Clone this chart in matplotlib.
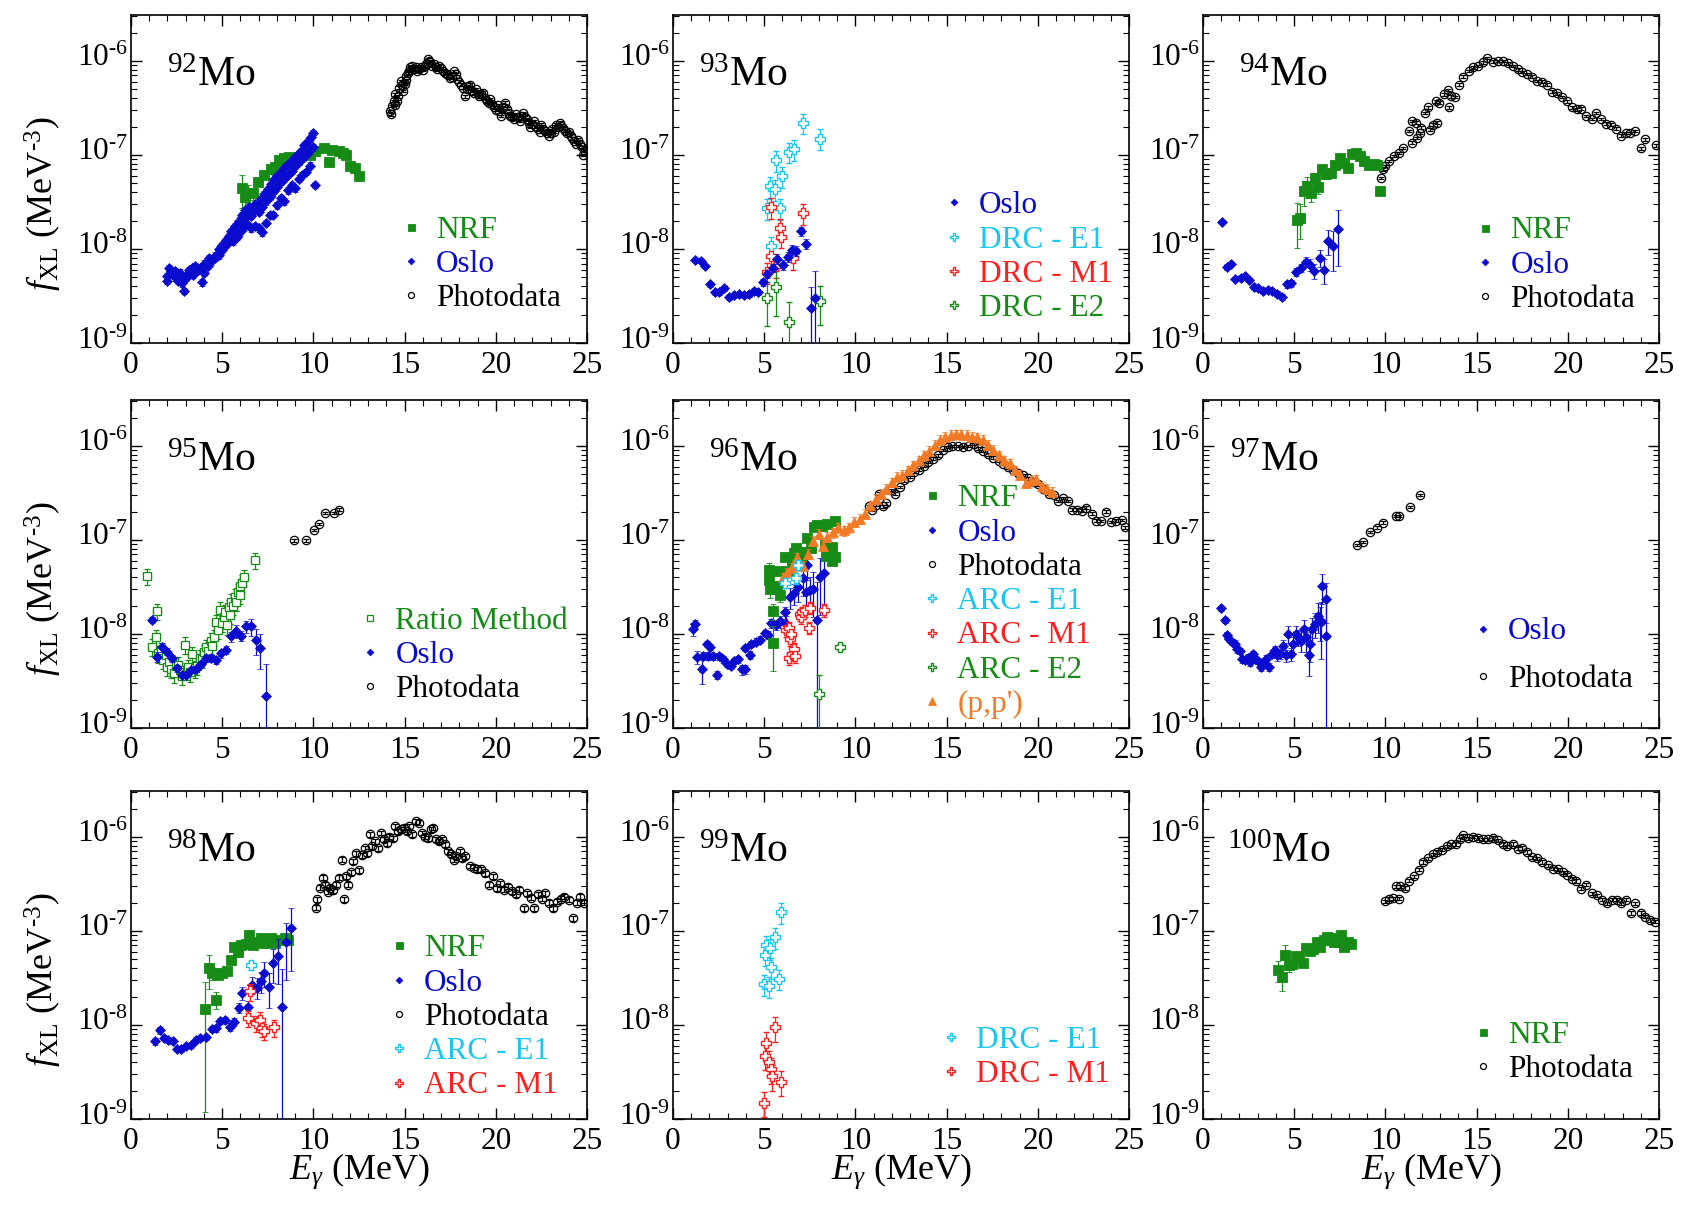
import numpy as np
import matplotlib
matplotlib.use('Agg')
import matplotlib.pyplot as plt
from matplotlib.lines import Line2D
from matplotlib.transforms import ScaledTranslation
from matplotlib.ticker import LogLocator, MultipleLocator, NullFormatter, FuncFormatter, FixedLocator

plt.rcParams['font.family'] = ['Liberation Serif', 'DejaVu Serif']
plt.rcParams['mathtext.fontset'] = 'custom'
plt.rcParams['mathtext.rm'] = 'Liberation Serif'
plt.rcParams['mathtext.it'] = 'Liberation Serif:italic'
plt.rcParams['mathtext.bf'] = 'Liberation Serif:bold'
plt.rcParams['axes.unicode_minus'] = False

# ---------------- DATA ----------------
# 92Mo
mo92_nrf_x = [6.07, 6.25, 6.4, 6.67, 6.95, 7.3, 7.67, 7.9, 8.1, 8.4, 8.67, 9.1, 9.3, 9.56, 9.8, 10.1, 10.6, 10.83, 11.0, 11.4, 11.6, 11.77, 12.0, 12.3, 12.5]
mo92_nrf_y = [4.4e-8, 3.6e-8, 3.9e-8, 3.9e-8, 5.2e-8, 6.1e-8, 7.0e-8, 7.5e-8, 8.9e-8, 9.2e-8, 9.6e-8, 8.9e-8, 9.8e-8, 1.04e-7, 1.0e-7, 1.1e-7, 1.18e-7, 8.5e-8, 1.12e-7, 1.1e-7, 1.04e-7, 1.0e-7, 7.6e-8, 7.3e-8, 5.9e-8]
mo92_nrf_err = [0.38, 0.25, 0.22, 0.15, 0.1, 0.08, 0.06, 0.06, 0.05, 0.05, 0.05, 0.05, 0.05, 0.05, 0.05, 0.05, 0.05, 0.05, 0.05, 0.05, 0.05, 0.05, 0.05, 0.05, 0.05]
mo92_osloA_x = [1.96, 2.1, 2.25, 2.41, 2.55, 2.7, 2.92, 3.05, 3.2, 3.33, 3.5, 3.65, 3.88, 4.0, 4.25, 4.4, 4.6, 4.8, 5.0, 5.2, 5.35, 5.5, 5.7, 5.9, 6.1, 6.25, 6.45, 6.6, 6.8, 7.0, 7.15, 7.3, 7.5, 7.65, 7.85, 8.0, 8.2, 8.4, 8.6, 8.8, 8.95, 9.1, 9.3, 9.5, 9.7, 9.85, 9.96]
mo92_osloA_y = [5.1e-9, 6.3e-9, 5.4e-9, 5.8e-9, 4.6e-9, 5.6e-9, 3.6e-9, 5.2e-9, 6.0e-9, 6.3e-9, 6.6e-9, 6.0e-9, 4.4e-9, 7.0e-9, 8.0e-9, 7.6e-9, 8.5e-9, 1.0e-8, 1.1e-8, 1.25e-8, 1.36e-8, 1.55e-8, 1.75e-8, 2.0e-8, 2.3e-8, 2.6e-8, 2.8e-8, 2.7e-8, 3.0e-8, 2.9e-8, 3.4e-8, 3.8e-8, 4.3e-8, 4.9e-8, 5.6e-8, 6.0e-8, 6.6e-8, 7.2e-8, 8.0e-8, 8.6e-8, 9.2e-8, 1.0e-7, 1.1e-7, 1.28e-7, 1.4e-7, 1.55e-7, 1.7e-7]
mo92_osloB_x = [2.0, 2.2, 2.4, 2.6, 2.8, 3.0, 3.2, 3.4, 3.6, 3.8, 4.0, 4.2, 4.4, 4.6, 4.8, 5.0, 5.2, 5.4, 5.6, 5.8, 6.0, 6.2, 6.4, 6.6, 6.8, 7.0, 7.2, 7.4, 7.6, 7.8, 8.0, 8.2, 8.4, 8.6, 8.8, 9.0, 9.2, 9.4, 9.6, 9.8, 10.0]
mo92_osloB_y = [4.6e-9, 5.8e-9, 5.0e-9, 4.9e-9, 4.3e-9, 4.9e-9, 5.6e-9, 5.3e-9, 5.9e-9, 6.3e-9, 5.6e-9, 6.6e-9, 7.4e-9, 8.0e-9, 8.6e-9, 9.8e-9, 1.1e-8, 1.22e-8, 1.4e-8, 1.6e-8, 1.85e-8, 2.1e-8, 2.4e-8, 2.25e-8, 2.6e-8, 2.5e-8, 2.8e-8, 3.2e-8, 3.6e-8, 4.0e-8, 4.5e-8, 5.2e-8, 5.6e-8, 6.1e-8, 6.8e-8, 7.6e-8, 8.5e-8, 9.2e-8, 1.0e-7, 1.12e-7, 1.2e-7]
mo92_osloC_x = [5.6, 5.8, 6.0, 6.2, 6.4, 6.6, 6.8, 7.0, 7.2, 7.4, 7.6, 7.8, 8.0, 8.2, 8.4, 8.6, 8.8, 9.0, 9.2, 9.4, 9.6, 9.8, 10.1]
mo92_osloC_y = [1.2e-8, 1.35e-8, 1.5e-8, 1.7e-8, 1.8e-8, 1.65e-8, 1.75e-8, 1.65e-8, 1.5e-8, 1.9e-8, 2.3e-8, 2.3e-8, 2.9e-8, 3.5e-8, 3.2e-8, 4.2e-8, 4.8e-8, 4.4e-8, 5.6e-8, 6.1e-8, 6.6e-8, 7.7e-8, 4.8e-8]
mo92_photo_x = [14.2, 14.3, 14.4, 14.5, 14.6, 14.7, 14.8, 14.9, 15.0, 15.1, 15.2, 15.3, 15.4, 15.5, 15.7, 15.9, 16.1, 16.3, 16.4, 16.5, 16.7, 16.9, 17.1, 17.3, 17.5, 17.7, 17.9, 18.1, 18.3, 18.5, 18.7, 18.9, 19.1, 19.3, 19.5, 19.7, 19.9, 20.1, 20.3, 20.5, 20.7, 20.9, 21.1, 21.3, 21.5, 21.7, 21.9, 22.1, 22.3, 22.5, 22.7, 22.9, 23.1, 23.3, 23.5, 23.7, 23.9, 24.1, 24.3, 24.5, 24.7, 24.9, 25.0]
mo92_photo_y = [2.92e-7, 3.31e-7, 3.74e-7, 4.4e-7, 3.74e-7, 5.19e-7, 6.1e-7, 4.78e-7, 5.64e-7, 6.92e-7, 7.5e-7, 8.5e-7, 8.8e-7, 8.1e-7, 7.8e-7, 8.5e-7, 8.8e-7, 1.04e-6, 9.6e-7, 8.8e-7, 8.5e-7, 8.8e-7, 7.8e-7, 7.2e-7, 6.6e-7, 7.8e-7, 6.4e-7, 5.6e-7, 4.2e-7, 5.4e-7, 4.8e-7, 5.0e-7, 4.2e-7, 4.6e-7, 3.7e-7, 3.9e-7, 3.2e-7, 3.4e-7, 2.6e-7, 3.6e-7, 2.8e-7, 2.5e-7, 2.7e-7, 2.3e-7, 2.8e-7, 2.4e-7, 2.0e-7, 2.3e-7, 1.9e-7, 2.1e-7, 1.8e-7, 1.6e-7, 1.9e-7, 2.1e-7, 2.2e-7, 1.95e-7, 1.7e-7, 1.6e-7, 1.4e-7, 1.45e-7, 1.2e-7, 1.1e-7, 1.15e-7]
mo92_photo2_x = [14.25, 14.45, 14.65, 14.85, 15.05, 15.25, 15.45, 15.6, 15.8, 16.0, 16.2, 16.35, 16.6, 16.8, 17.0, 17.2, 17.4, 17.6, 17.8, 18.0, 18.2, 18.4, 18.6, 18.8, 19.0, 19.2, 19.4, 19.6, 19.8, 20.0, 20.2, 20.4, 20.6, 20.8, 21.0, 21.2, 21.4, 21.6, 21.8, 22.0, 22.2, 22.4, 22.6, 22.8, 23.0, 23.2, 23.4, 23.6, 23.8, 24.0, 24.2, 24.4, 24.6, 24.8]
mo92_photo2_y = [2.7e-7, 3.4e-7, 4.2e-7, 5.5e-7, 6.2e-7, 7.8e-7, 8.2e-7, 8.6e-7, 8.2e-7, 8.0e-7, 9.2e-7, 1.0e-6, 9.2e-7, 8.2e-7, 8.4e-7, 7.4e-7, 7.0e-7, 6.8e-7, 7.2e-7, 6.0e-7, 5.2e-7, 5.0e-7, 5.6e-7, 4.6e-7, 4.4e-7, 4.4e-7, 4.0e-7, 3.6e-7, 3.5e-7, 3.0e-7, 2.9e-7, 3.2e-7, 3.1e-7, 2.6e-7, 2.4e-7, 2.5e-7, 2.6e-7, 2.5e-7, 2.2e-7, 2.15e-7, 2.0e-7, 1.75e-7, 1.9e-7, 1.7e-7, 1.7e-7, 1.75e-7, 2.0e-7, 2.05e-7, 1.8e-7, 1.75e-7, 1.5e-7, 1.3e-7, 1.3e-7, 1.0e-7]

# 93Mo
mo93_oslo_x = [1.23, 1.53, 1.76, 2.03, 2.31, 2.54, 2.82, 3.09, 3.35, 3.62, 3.91, 4.19, 4.46, 4.66, 4.93, 5.18, 5.46, 5.69, 6.03, 6.28, 6.51, 6.77, 7.04, 7.30, 7.55, 7.79]
mo93_oslo_y = [7.7e-9, 7.5e-9, 6.6e-9, 4.2e-9, 3.45e-9, 3.45e-9, 3.8e-9, 3.05e-9, 3.2e-9, 3.3e-9, 3.2e-9, 3.3e-9, 3.6e-9, 3.45e-9, 4.4e-9, 5.4e-9, 6.25e-9, 7.8e-9, 6.8e-9, 8.3e-9, 9.8e-9, 9.6e-9, 1.54e-8, 1.14e-8, 2.34e-9, 3.0e-9]
mo93_oslo_err = [0.05, 0.05, 0.06, 0.06, 0.06, 0.06, 0.06, 0.06, 0.06, 0.06, 0.06, 0.06, 0.07, 0.07, 0.08, 0.1, 0.1, 0.12, 0.12, 0.12, 0.12, 0.12, 0.1, 0.12, 0.7, 0.95]
mo93_e1_x = [5.14, 5.34, 5.4, 5.59, 5.67, 5.89, 5.95, 6.38, 6.61, 7.14, 8.08]
mo93_e1_y = [2.73e-8, 4.65e-8, 1.08e-8, 4.3e-8, 8.8e-8, 2.73e-8, 5.9e-8, 1.08e-7, 1.15e-7, 2.2e-7, 1.49e-7]
mo93_m1_x = [5.18, 5.38, 5.4, 5.63, 5.89, 5.93, 6.57, 7.14]
mo93_m1_y = [5.66e-9, 2.8e-8, 8.5e-9, 6.6e-9, 1.67e-8, 1.35e-8, 8.0e-9, 2.4e-8]
mo93_e2_x = [5.14, 5.63, 6.38, 8.08]
mo93_e2_y = [3.0e-9, 3.9e-9, 1.69e-9, 2.8e-9]
mo93_e2_err = [0.5, 0.5, 0.6, 0.45]

# 94Mo
mo94_nrf_x = [5.14, 5.33, 5.52, 5.72, 5.91, 6.14, 6.33, 6.52, 6.77, 7.0, 7.26, 7.51, 7.74, 7.93, 8.18, 8.41, 8.6, 8.8, 9.08, 9.37, 9.56, 9.72]
mo94_nrf_y = [2.05e-8, 2.13e-8, 4.1e-8, 4.65e-8, 3.95e-8, 5.7e-8, 4.5e-8, 7.0e-8, 6.2e-8, 6.4e-8, 7.9e-8, 9.3e-8, 8.2e-8, 7.3e-8, 1.01e-7, 1.05e-7, 9.7e-8, 8.6e-8, 7.9e-8, 8.0e-8, 7.9e-8, 4.1e-8]
mo94_nrf_err = [0.5, 0.4, 0.3, 0.25, 0.2, 0.12, 0.15, 0.1, 0.1, 0.08, 0.08, 0.06, 0.1, 0.06, 0.05, 0.05, 0.05, 0.05, 0.05, 0.05, 0.05, 0.05]
mo94_oslo_x = [1.04, 1.29, 1.54, 1.77, 2.06, 2.31, 2.54, 2.77, 3.02, 3.27, 3.54, 3.79, 4.08, 4.33, 4.6, 4.85, 5.1, 5.37, 5.62, 5.85, 6.1, 6.39, 6.62, 6.87, 7.1, 7.39]
mo94_oslo_y = [1.94e-8, 6.5e-9, 6.9e-9, 4.8e-9, 4.9e-9, 5.1e-9, 4.65e-9, 3.9e-9, 3.8e-9, 3.6e-9, 3.7e-9, 3.6e-9, 3.3e-9, 3.1e-9, 4.2e-9, 4.3e-9, 5.7e-9, 6.3e-9, 7.3e-9, 6.8e-9, 5.8e-9, 8.1e-9, 6.0e-9, 1.22e-8, 1.07e-8, 1.64e-8]
mo94_oslo_err = [0.05, 0.05, 0.05, 0.05, 0.05, 0.05, 0.05, 0.05, 0.05, 0.05, 0.05, 0.05, 0.07, 0.08, 0.08, 0.08, 0.1, 0.1, 0.12, 0.15, 0.18, 0.2, 0.3, 0.3, 0.45, 0.6]
mo94_photo_x = [9.76, 9.89, 10.0, 10.18, 10.47, 10.72, 10.97, 11.3, 11.45, 11.45, 11.68, 11.74, 11.87, 11.97, 12.17, 12.36, 12.45, 12.59, 12.78, 12.84, 12.93, 13.22, 13.41, 13.47, 13.61, 13.8, 14.03, 14.28, 14.57, 14.82, 15.09, 15.34, 15.59, 15.88, 16.17, 16.45, 16.74, 17.01, 17.26, 17.51, 17.78, 18.03, 18.32, 18.61, 18.86, 19.15, 19.4, 19.67, 19.96, 20.21, 20.48, 20.73, 21.02, 21.3, 21.55, 21.82, 22.08, 22.36, 22.65, 22.9, 23.17, 23.42, 23.71, 24.04, 24.25, 24.81]
mo94_photo_y = [5.7e-8, 7.0e-8, 7.6e-8, 8.6e-8, 9.7e-8, 1.05e-7, 1.19e-7, 1.79e-7, 2.29e-7, 1.35e-7, 2.2e-7, 1.51e-7, 1.72e-7, 1.95e-7, 2.8e-7, 3.2e-7, 1.86e-7, 2.1e-7, 3.7e-7, 2.2e-7, 3.6e-7, 4.4e-7, 4.9e-7, 3.2e-7, 4.2e-7, 4.1e-7, 5.6e-7, 6.8e-7, 7.8e-7, 8.5e-7, 8.8e-7, 9.6e-7, 1.07e-6, 9.8e-7, 1.0e-6, 1.0e-6, 9.4e-7, 8.8e-7, 8.1e-7, 7.6e-7, 7.2e-7, 6.8e-7, 6.1e-7, 6.0e-7, 5.6e-7, 4.7e-7, 4.5e-7, 4.1e-7, 3.7e-7, 3.2e-7, 3.05e-7, 3.1e-7, 2.6e-7, 2.4e-7, 2.8e-7, 2.4e-7, 2.15e-7, 2.1e-7, 1.9e-7, 1.6e-7, 1.7e-7, 1.7e-7, 1.8e-7, 1.17e-7, 1.46e-7, 1.26e-7]

# 95Mo
mo95_ratio_x = [0.9, 1.17, 1.35, 1.44, 1.5, 1.63, 1.75, 1.9, 2.0, 2.08, 2.2, 2.36, 2.45, 2.58, 2.7, 2.8, 2.94, 3.05, 3.13, 3.25, 3.37, 3.5, 3.64, 3.78, 3.91, 4.0, 4.1, 4.2, 4.37, 4.45, 4.55, 4.64, 4.75, 4.88, 5.0, 5.1, 5.18, 5.24, 5.37, 5.45, 5.5, 5.6, 5.68, 5.78, 5.86, 5.95, 6.0, 6.1, 6.19, 6.82]
mo95_ratio_y = [4.1e-8, 7.3e-9, 9.2e-9, 1.75e-8, 6.2e-9, 6.7e-9, 5.3e-9, 5.9e-9, 4.5e-9, 5.0e-9, 4.2e-9, 3.8e-9, 4.6e-9, 4.7e-9, 4.1e-9, 3.6e-9, 7.7e-9, 4.0e-9, 4.4e-9, 3.9e-9, 6.1e-9, 4.3e-9, 4.6e-9, 5.6e-9, 5.4e-9, 6.4e-9, 7.2e-9, 6.6e-9, 8.5e-9, 7.4e-9, 9.2e-9, 1.33e-8, 1.1e-8, 1.8e-8, 1.3e-8, 1.5e-8, 1.7e-8, 1.23e-8, 1.93e-8, 1.6e-8, 2.2e-8, 2.0e-8, 2.5e-8, 2.2e-8, 2.8e-8, 2.6e-8, 3.2e-8, 3.5e-8, 4.0e-8, 6.07e-8]
mo95_oslo_x = [1.17, 1.44, 1.72, 1.99, 2.23, 2.51, 2.78, 3.0, 3.31, 3.58, 3.86, 4.13, 4.41, 4.68, 4.92, 5.21, 5.47, 5.74, 6.02, 6.29, 6.57, 6.84, 7.08, 7.39]
mo95_oslo_y = [1.42e-8, 5.7e-9, 7.2e-9, 6.5e-9, 5.5e-9, 4.3e-9, 3.7e-9, 3.7e-9, 4.1e-9, 4.2e-9, 4.8e-9, 5.5e-9, 5.6e-9, 5.3e-9, 6.2e-9, 6.8e-9, 9.4e-9, 1.07e-8, 9.6e-9, 1.2e-8, 1.2e-8, 8.6e-9, 7.1e-9, 2.2e-9]
mo95_oslo_err = [0.06, 0.12, 0.1, 0.08, 0.08, 0.08, 0.06, 0.06, 0.06, 0.06, 0.08, 0.08, 0.1, 0.1, 0.1, 0.1, 0.12, 0.15, 0.12, 0.15, 0.2, 0.3, 0.4, 1.2]
mo95_photo_x = [8.94, 9.57, 10.03, 10.3, 10.62, 11.14, 11.41]
mo95_photo_y = [9.9e-8, 9.9e-8, 1.28e-7, 1.48e-7, 1.93e-7, 1.93e-7, 2.1e-7]

# 96Mo
mo96_nrf_x = [5.28, 5.28, 5.32, 5.5, 5.5, 5.68, 5.74, 5.86, 6.13, 6.31, 6.5, 6.62, 6.77, 7.04, 7.2, 7.32, 7.59, 7.75, 7.87, 8.18, 8.32, 8.41, 8.47, 8.69, 8.72, 8.86, 8.86]
mo96_nrf_y = [4.76e-8, 3.7e-8, 3.0e-8, 1.75e-8, 8.1e-9, 3.2e-8, 4.7e-8, 2.57e-8, 6.5e-8, 4.7e-8, 5.8e-8, 7.2e-8, 8.1e-8, 6.6e-8, 7.5e-8, 1.04e-7, 8.1e-8, 1.36e-7, 1.45e-7, 1.4e-7, 8.9e-8, 6.7e-8, 1.48e-7, 8.5e-8, 6.0e-8, 1.6e-7, 6.5e-8]
mo96_nrf_err = [0.2, 0.15, 0.2, 0.2, 0.5, 0.15, 0.1, 0.15, 0.08, 0.1, 0.08, 0.08, 0.08, 0.08, 0.08, 0.06, 0.08, 0.06, 0.06, 0.06, 0.08, 0.08, 0.06, 0.08, 0.1, 0.06, 0.1]
mo96_oslo_x = [1.08, 1.21, 1.34, 1.57, 1.63, 1.85, 1.94, 2.03, 2.21, 2.43, 2.54, 2.76, 2.98, 3.16, 3.34, 3.58, 3.76, 3.94, 3.94, 4.21, 4.3, 4.54, 4.76, 5.03, 5.21, 5.39, 5.63, 5.85, 6.13, 6.22, 6.4, 6.62, 6.86, 7.13, 7.31, 7.35, 7.5, 7.68, 7.87, 8.04, 8.26]
mo96_oslo_y = [1.13e-8, 1.28e-8, 5.7e-9, 4.2e-9, 5.8e-9, 7.8e-9, 5.8e-9, 7.3e-9, 5.8e-9, 3.7e-9, 5.8e-9, 5.4e-9, 4.8e-9, 4.6e-9, 5.2e-9, 5.4e-9, 4.2e-9, 4.2e-9, 7.1e-9, 6.0e-9, 7.8e-9, 8.3e-9, 8.7e-9, 1.03e-8, 9.7e-9, 1.3e-8, 1.24e-8, 1.36e-8, 1.7e-8, 1.28e-8, 2.45e-8, 2.7e-8, 3.16e-8, 3.9e-8, 2.8e-8, 5.4e-8, 2.9e-8, 3.0e-8, 1.41e-8, 4.0e-8, 4.4e-8]
mo96_oslo_err = [0.15, 0.1, 0.15, 0.3, 0.1, 0.08, 0.1, 0.08, 0.08, 0.1, 0.08, 0.08, 0.08, 0.08, 0.08, 0.08, 0.12, 0.1, 0.08, 0.1, 0.08, 0.08, 0.08, 0.08, 0.1, 0.12, 0.12, 0.15, 0.15, 0.2, 0.25, 0.25, 0.3, 0.35, 0.4, 0.3, 0.4, 0.5, 1.5, 0.6, 0.6]
mo96_photo_x = [10.72, 10.92, 11.11, 11.27, 11.5, 11.7, 11.93, 12.19, 12.44, 12.68, 12.97, 13.22, 13.5, 13.75, 14.0, 14.28, 14.53, 14.79, 15.06, 15.32, 15.61, 15.9, 16.2, 16.49, 16.74, 17.02, 17.27, 17.57, 17.86, 18.11, 18.35, 18.64, 18.9, 19.17, 19.48, 19.72, 20.01, 20.3, 20.6, 20.89, 21.09, 21.38, 21.63, 21.87, 22.16, 22.42, 22.65, 22.95, 23.2, 23.47, 23.73, 24.02, 24.31, 24.61, 24.8]
mo96_photo_y = [2.27e-7, 2.1e-7, 2.35e-7, 3.1e-7, 2.27e-7, 2.45e-7, 3.4e-7, 3.1e-7, 3.65e-7, 4.3e-7, 4.67e-7, 5.3e-7, 5.6e-7, 6.1e-7, 6.7e-7, 7.3e-7, 7.9e-7, 9.0e-7, 9.75e-7, 9.9e-7, 1.0e-6, 9.75e-7, 1.0e-6, 1.04e-6, 9.4e-7, 8.8e-7, 8.1e-7, 7.5e-7, 6.9e-7, 6.4e-7, 5.9e-7, 5.6e-7, 5.15e-7, 4.9e-7, 4.5e-7, 4.1e-7, 3.9e-7, 3.5e-7, 3.1e-7, 2.97e-7, 2.6e-7, 2.8e-7, 2.6e-7, 2.1e-7, 2.1e-7, 2.05e-7, 2.2e-7, 1.9e-7, 1.6e-7, 1.58e-7, 2.0e-7, 1.55e-7, 1.6e-7, 1.62e-7, 1.36e-7]
mo96_e1_x = [6.13, 6.72, 6.86]
mo96_e1_y = [3.5e-8, 3.9e-8, 5.4e-8]
mo96_m1_x = [6.22, 6.36, 6.43, 6.49, 6.35, 6.55, 6.62, 6.68, 6.95, 7.0, 7.09, 7.22, 7.44, 7.5, 8.3]
mo96_m1_y = [1.09e-8, 1.16e-8, 8.8e-9, 1.0e-8, 5.5e-9, 6.1e-9, 6.9e-9, 5.8e-9, 1.61e-8, 1.5e-8, 1.7e-8, 1.78e-8, 1.17e-8, 1.9e-8, 1.8e-8]
mo96_e2_x = [8.0, 9.16]
mo96_e2_y = [2.3e-9, 7.3e-9]
mo96_e2_err = [0.6, 0.08]
mo96_pp_x = [6.03, 6.26, 6.51, 6.81, 7.1, 7.39, 7.69, 7.98, 8.22, 8.47, 8.76, 9.06, 9.35, 9.64, 9.94, 10.23, 10.52, 10.82, 11.11, 11.4, 11.7, 11.99, 12.28, 12.58, 12.87, 13.17, 13.46, 13.75, 14.05, 14.34, 14.63, 14.93, 15.22, 15.51, 15.81, 16.1, 16.39, 16.69, 16.98, 17.27, 17.57, 17.86, 18.15, 18.45, 18.74, 19.03, 19.33, 19.62, 19.92, 20.21, 20.5, 20.8]
mo96_pp_y = [3.99e-8, 4.5e-8, 5.1e-8, 6.5e-8, 5.3e-8, 7.1e-8, 9.8e-8, 1.16e-7, 8.7e-8, 1.07e-7, 1.2e-7, 1.36e-7, 1.26e-7, 1.36e-7, 1.55e-7, 1.68e-7, 1.9e-7, 2.33e-7, 2.74e-7, 3.1e-7, 3.5e-7, 4.1e-7, 4.67e-7, 4.9e-7, 5.5e-7, 6.2e-7, 7.0e-7, 7.9e-7, 8.85e-7, 1.02e-6, 1.15e-6, 1.25e-6, 1.3e-6, 1.33e-6, 1.32e-6, 1.3e-6, 1.25e-6, 1.23e-6, 1.15e-6, 1.02e-6, 9.0e-7, 7.9e-7, 7.0e-7, 6.5e-7, 5.5e-7, 4.9e-7, 4.0e-7, 4.3e-7, 4.4e-7, 3.7e-7, 3.5e-7, 3.25e-7]

# 97Mo
mo97_oslo_x = [1.0, 1.23, 1.29, 1.42, 1.58, 1.73, 1.87, 2.02, 2.16, 2.31, 2.44, 2.58, 2.73, 2.87, 3.02, 3.16, 3.31, 3.46, 3.62, 3.79, 3.93, 4.08, 4.23, 4.41, 4.56, 4.66, 4.85, 4.95, 5.08, 5.23, 5.39, 5.52, 5.62, 5.81, 5.87, 6.0, 6.14, 6.29, 6.39, 6.49, 6.54, 6.77, 6.77]
mo97_oslo_y = [1.88e-8, 1.39e-8, 9.8e-9, 8.9e-9, 8.2e-9, 7.9e-9, 6.9e-9, 6.6e-9, 5.4e-9, 5.3e-9, 5.6e-9, 5.0e-9, 6.1e-9, 5.4e-9, 5.2e-9, 4.5e-9, 4.9e-9, 5.4e-9, 4.5e-9, 6.1e-9, 6.7e-9, 5.9e-9, 6.1e-9, 7.5e-9, 5.9e-9, 1.0e-8, 6.1e-9, 7.8e-9, 1.0e-8, 9.2e-9, 8.5e-9, 1.13e-8, 9.2e-9, 5.9e-9, 7.8e-9, 1.13e-8, 1.28e-8, 1.57e-8, 1.39e-8, 1.35e-8, 3.2e-8, 2.38e-8, 9.5e-9]
mo97_oslo_err = [0.06, 0.06, 0.08, 0.08, 0.08, 0.08, 0.08, 0.08, 0.08, 0.08, 0.08, 0.08, 0.08, 0.08, 0.08, 0.1, 0.1, 0.1, 0.1, 0.1, 0.12, 0.12, 0.12, 0.15, 0.15, 0.2, 0.15, 0.2, 0.2, 0.2, 0.25, 0.25, 0.3, 0.4, 0.35, 0.3, 0.3, 0.35, 0.4, 0.6, 0.35, 0.45, 1.5]
mo97_photo_x = [8.47, 8.76, 9.14, 9.53, 9.89, 10.58, 10.76, 11.34, 11.91]
mo97_photo_y = [8.85e-8, 9.5e-8, 1.22e-7, 1.35e-7, 1.53e-7, 1.8e-7, 1.8e-7, 2.25e-7, 3.0e-7]

# 98Mo
mo98_nrf_x = [4.06, 4.27, 4.44, 4.65, 4.79, 5.0, 5.28, 5.49, 5.63, 5.84, 6.05, 6.32, 6.47, 6.68, 6.89, 7.1, 7.31, 7.47, 7.68, 7.89, 8.1, 8.42, 8.63]
mo98_nrf_y = [1.48e-8, 4.0e-8, 3.56e-8, 1.85e-8, 3.4e-8, 3.56e-8, 3.74e-8, 4.9e-8, 6.8e-8, 6.0e-8, 7.1e-8, 7.2e-8, 9.1e-8, 7.1e-8, 7.7e-8, 8.4e-8, 7.4e-8, 7.7e-8, 8.4e-8, 7.4e-8, 8.0e-8, 8.4e-8, 8.0e-8]
mo98_nrf_err = [0.92, 0.4, 0.15, 0.2, 0.1, 0.1, 0.1, 0.08, 0.06, 0.05, 0.05, 0.05, 0.05, 0.05, 0.05, 0.05, 0.05, 0.05, 0.05, 0.05, 0.05, 0.05, 0.05]
mo98_oslo_x = [1.3, 1.57, 1.82, 2.03, 2.28, 2.51, 2.76, 3.04, 3.29, 3.56, 3.81, 4.12, 4.44, 4.65, 4.9, 5.17, 5.42, 5.63, 5.9, 6.11, 6.39, 6.64, 6.89, 7.1, 7.31, 7.58, 7.79, 8.06, 8.27, 8.52, 8.77]
mo98_oslo_y = [6.7e-9, 8.8e-9, 7.3e-9, 7.0e-9, 6.7e-9, 5.6e-9, 5.6e-9, 5.9e-9, 6.1e-9, 7.0e-9, 7.2e-9, 7.4e-9, 9.1e-9, 9.2e-9, 1.1e-8, 1.13e-8, 9.6e-9, 1.08e-8, 1.53e-8, 2.18e-8, 1.56e-8, 2.67e-8, 2.5e-8, 2.95e-8, 3.6e-8, 2.55e-8, 4.6e-8, 5.4e-8, 1.56e-8, 7.6e-8, 1.07e-7]
mo98_oslo_err = [0.08, 0.08, 0.06, 0.06, 0.06, 0.06, 0.06, 0.06, 0.06, 0.06, 0.06, 0.06, 0.08, 0.08, 0.08, 0.08, 0.1, 0.1, 0.12, 0.15, 0.15, 0.2, 0.25, 0.25, 0.3, 0.4, 0.4, 0.5, 1.5, 0.6, 0.65]
mo98_photo_x = [10.15, 10.2, 10.36, 10.51, 10.66, 10.78, 10.93, 11.08, 11.24, 11.41, 11.56, 11.66, 11.77, 11.91, 12.04, 12.19, 12.33, 12.5, 12.67, 12.81, 12.96, 13.09, 13.23, 13.38, 13.55, 13.71, 13.86, 14.01, 14.17, 14.34, 14.49, 14.64, 14.8, 14.97, 15.12, 15.26, 15.43, 15.64, 15.81, 15.95, 16.1, 16.27, 16.44, 16.58, 16.73, 16.9, 17.06, 17.21, 17.36, 17.53, 17.69, 17.84, 18.01, 18.15, 18.32, 18.57, 18.78, 18.99, 19.2, 19.41, 19.62, 19.83, 20.04, 20.25, 20.46, 20.67, 20.88, 21.09, 21.29, 21.54, 21.71, 21.92, 22.09, 22.3, 22.51, 22.72, 22.93, 23.14, 23.35, 23.55, 23.76, 24.01, 24.23, 24.43, 24.64, 24.85]
mo98_photo_y = [1.76e-7, 2.16e-7, 2.88e-7, 3.68e-7, 3.1e-7, 2.6e-7, 2.88e-7, 2.7e-7, 3.1e-7, 3.68e-7, 5.73e-7, 2.16e-7, 3.8e-7, 3.1e-7, 4.2e-7, 5.5e-7, 6.7e-7, 4.4e-7, 6.4e-7, 7.6e-7, 6.7e-7, 1.06e-6, 7.9e-7, 9.0e-7, 7.6e-7, 1.1e-6, 9.4e-7, 8.5e-7, 1.0e-6, 9.7e-7, 1.3e-6, 1.15e-6, 1.2e-6, 1.25e-6, 1.15e-6, 1.3e-6, 1.06e-6, 1.47e-6, 1.41e-6, 1.1e-6, 1.0e-6, 9.7e-7, 1.2e-6, 1.25e-6, 9.4e-7, 9.0e-7, 9.4e-7, 8.3e-7, 7.0e-7, 6.5e-7, 5.73e-7, 6.2e-7, 7.0e-7, 5.9e-7, 6.2e-7, 4.9e-7, 4.7e-7, 4.5e-7, 4.5e-7, 4.1e-7, 3.1e-7, 3.8e-7, 2.85e-7, 3.2e-7, 2.75e-7, 2.95e-7, 2.63e-7, 2.45e-7, 2.75e-7, 1.75e-7, 2.5e-7, 2.25e-7, 1.75e-7, 2.45e-7, 2.2e-7, 2.5e-7, 2.0e-7, 1.75e-7, 2.05e-7, 2.2e-7, 2.3e-7, 2.15e-7, 1.37e-7, 2.0e-7, 2.3e-7, 2.0e-7]
mo98_e1_x = [6.57]
mo98_e1_y = [4.3e-8]
mo98_m1_x = [6.39, 6.53, 6.85, 7.06, 7.18, 7.27, 7.83]
mo98_m1_y = [1.18e-8, 2.27e-8, 1.04e-8, 1.13e-8, 9.2e-9, 8.6e-9, 9.4e-9]

# 99Mo
mo99_e1_x = [5.01, 5.05, 5.11, 5.28, 5.34, 5.4, 5.58, 5.83, 5.93]
mo99_e1_y = [2.7e-8, 5.6e-8, 7.1e-8, 2.6e-8, 6.6e-8, 4.1e-8, 8.55e-8, 3.1e-8, 1.58e-7]
mo99_m1_x = [5.01, 5.05, 5.11, 5.28, 5.38, 5.44, 5.58, 5.93]
mo99_m1_y = [1.49e-9, 4.7e-9, 6.5e-9, 4.06e-9, 3.4e-9, 2.86e-9, 9.4e-9, 2.5e-9]

# 100Mo
mo100_nrf_x = [4.12, 4.31, 4.5, 4.7, 4.89, 5.08, 5.27, 5.47, 5.66, 5.85, 6.04, 6.24, 6.43, 6.62, 6.82, 7.0, 7.2, 7.39, 7.54, 7.74, 7.93, 8.12]
mo100_nrf_y = [3.84e-8, 3.25e-8, 5.5e-8, 4.34e-8, 4.4e-8, 5.46e-8, 5.2e-8, 4.6e-8, 6.6e-8, 6.1e-8, 6.4e-8, 7.6e-8, 6.8e-8, 8.0e-8, 8.7e-8, 8.5e-8, 7.7e-8, 7.6e-8, 9.1e-8, 6.8e-8, 7.7e-8, 7.2e-8]
mo100_nrf_err = [0.25, 0.3, 0.3, 0.15, 0.1, 0.1, 0.08, 0.06, 0.06, 0.05, 0.05, 0.05, 0.05, 0.05, 0.05, 0.05, 0.05, 0.05, 0.05, 0.05, 0.05, 0.05]
mo100_photo_x = [10.0, 10.2, 10.39, 10.57, 10.76, 10.82, 11.05, 11.3, 11.55, 11.82, 12.07, 12.32, 12.59, 12.84, 13.09, 13.36, 13.61, 13.86, 14.09, 14.28, 14.51, 14.82, 15.05, 15.34, 15.63, 15.92, 16.17, 16.44, 16.69, 16.98, 17.26, 17.51, 17.74, 18.03, 18.32, 18.61, 18.9, 19.19, 19.44, 19.71, 19.96, 20.21, 20.44, 20.73, 21.02, 21.3, 21.59, 21.88, 22.13, 22.4, 22.71, 22.94, 23.17, 23.48, 23.71, 24.0, 24.25, 24.52, 24.77]
mo100_photo_y = [2.06e-7, 2.18e-7, 2.23e-7, 2.97e-7, 2.2e-7, 2.97e-7, 2.86e-7, 3.42e-7, 3.8e-7, 4.48e-7, 5.4e-7, 5.9e-7, 6.5e-7, 6.9e-7, 7.3e-7, 7.95e-7, 8.3e-7, 8.4e-7, 9.4e-7, 1.04e-6, 9.6e-7, 1.0e-6, 9.75e-7, 9.4e-7, 9.4e-7, 9.75e-7, 9.2e-7, 8.4e-7, 7.95e-7, 8.4e-7, 7.5e-7, 7.6e-7, 6.9e-7, 6.07e-7, 5.9e-7, 5.4e-7, 5.0e-7, 4.6e-7, 4.5e-7, 4.2e-7, 3.96e-7, 3.6e-7, 3.4e-7, 2.8e-7, 3.1e-7, 2.5e-7, 2.4e-7, 2.14e-7, 1.97e-7, 2.14e-7, 2.14e-7, 1.97e-7, 2.14e-7, 1.55e-7, 1.97e-7, 1.55e-7, 1.42e-7, 1.31e-7, 1.25e-7]

isotopes = ['92', '93', '94', '95', '96', '97', '98', '99', '100']
y_major_ticks = [1e-9, 1e-8, 1e-7, 1e-6]

# ---------------- STYLE ----------------
GREEN = '#168c16'
BLUE = '#0b0bcf'
CYAN = '#18c6f4'
RED = '#ff1f1f'
ORANGE = '#f07a26'

STY = {
    'NRF': dict(marker='s', ms=7.0, mfc=GREEN, mec=GREEN, mew=0.6, c=GREEN),
    'Oslo': dict(marker='D', ms=4.8, mfc=BLUE, mec=BLUE, mew=0.5, c=BLUE),
    'Photodata': dict(marker='o', ms=6.0, mfc='none', mec='black', mew=0.9, c='black'),
    'Ratio Method': dict(marker='s', ms=6.0, mfc='white', mec=GREEN, mew=0.9, c=GREEN),
    'E1': dict(marker='P', ms=7.5, mfc='white', mec=CYAN, mew=1.0, c=CYAN),
    'M1': dict(marker='P', ms=7.5, mfc='white', mec=RED, mew=1.0, c=RED),
    'E2': dict(marker='P', ms=7.5, mfc='white', mec=GREEN, mew=1.0, c=GREEN),
    'pp': dict(marker='^', ms=7.5, mfc=ORANGE, mec=ORANGE, mew=0.5, c=ORANGE),
}


def plot_series(ax, x, y, err, key, xerr=None, z=3):
    n = min(len(x), len(y))
    x = np.asarray(x[:n], float)
    y = np.asarray(y[:n], float)
    e = np.asarray(err if np.ndim(err) else [err] * n, float)[:n]
    s = STY[key]
    ax.errorbar(x, y, yerr=y * e, xerr=xerr, fmt=s['marker'], ms=s['ms'],
                mfc=s['mfc'], mec=s['mec'], mew=s['mew'], ecolor=s['c'],
                elinewidth=0.9, capsize=2.2, capthick=0.9, zorder=z, clip_on=True)


def legend(ax, entries, xm, yc, spacing=0.17):
    handles, labels, colors = [], [], []
    for lab, key in entries:
        s = STY[key]
        handles.append(Line2D([], [], linestyle='none', marker=s['marker'],
                              ms=s['ms'] * 0.72, mfc=s['mfc'], mec=s['mec'], mew=s['mew']))
        labels.append(lab)
        colors.append(s['c'])
    fs = 22.5
    x0 = xm - 0.3 * fs * 100 / 72 / 456.0
    ax.legend(handles, labels, loc='center left', bbox_to_anchor=(x0, yc),
              frameon=False, fontsize=fs, handlelength=0.6, handletextpad=0.5,
              labelspacing=spacing, borderpad=0, borderaxespad=0, labelcolor=colors)


def sci_fmt(v, pos):
    if v <= 0:
        return ''
    ex = int(np.round(np.log10(v)))
    sign = r'\text{-}' if ex < 0 else ''
    return r'$\mathdefault{10^{%s%d}}$' % (sign, abs(ex))


fig = plt.figure(figsize=(16.82, 12.05), dpi=100)
W, H = 1682.0, 1205.0
col_left = [131, 673, 1203]
row_top = [15, 400, 791]
AW, AH = 456, 328

axes = []
for r in range(3):
    for c in range(3):
        ax = fig.add_axes([col_left[c] / W, 1 - (row_top[r] + AH) / H, AW / W, AH / H])
        axes.append(ax)

for i, ax in enumerate(axes):
    ax.set_yscale('log')
    ax.set_xlim(0, 25)
    ax.set_ylim(1e-9, 3.07e-6)
    ax.xaxis.set_major_locator(MultipleLocator(5))
    ax.xaxis.set_minor_locator(MultipleLocator(1))
    ax.yaxis.set_major_locator(FixedLocator(y_major_ticks))
    ax.yaxis.set_major_formatter(FuncFormatter(sci_fmt))
    ax.yaxis.set_minor_locator(LogLocator(base=10, subs=np.arange(2, 10), numticks=20))
    ax.yaxis.set_minor_formatter(NullFormatter())
    ax.tick_params(which='both', direction='in', top=True, right=True, labelsize=22.5)
    ax.tick_params(which='major', length=8, width=1.0, pad=6)
    ax.tick_params(which='minor', length=4, width=0.8)
    ax.tick_params(axis='y', which='major', pad=2)
    for sp in ax.spines.values():
        sp.set_linewidth(1.2)
    lx = {'92': 0.078, '93': 0.056, '94': 0.08, '95': 0.078, '96': 0.078,
          '97': 0.059, '98': 0.078, '99': 0.056, '100': 0.052}[isotopes[i]]
    ax.text(lx, 0.785, r'$^{%s}$Mo' % isotopes[i], transform=ax.transAxes,
            fontsize=30, ha='left', va='baseline')
    if i % 3 == 0:
        ax.set_ylabel(r'$f_{\rm XL}$ (MeV$^{\text{-}3}$)', fontsize=26)
        ax.yaxis.set_label_coords(-0.147, 0.425)
    if i >= 6:
        ax.set_xlabel(r'$E_{\gamma}$ (MeV)', fontsize=26)
        ax.xaxis.set_label_coords(0.5, -0.10)
    shift = ScaledTranslation(0, 4 / 72.0, fig.dpi_scale_trans)
    for lab in ax.get_yticklabels():
        lab.set_transform(lab.get_transform() + shift)

a = axes
# 92Mo
plot_series(a[0], mo92_photo_x, mo92_photo_y, 0.03, 'Photodata', z=2)
plot_series(a[0], mo92_photo2_x, mo92_photo2_y, 0.03, 'Photodata', z=2)
plot_series(a[0], mo92_nrf_x, mo92_nrf_y, mo92_nrf_err, 'NRF', z=3)
plot_series(a[0], mo92_osloA_x, mo92_osloA_y, 0.08, 'Oslo', xerr=0.06, z=4)
plot_series(a[0], mo92_osloB_x, mo92_osloB_y, 0.08, 'Oslo', xerr=0.06, z=4)
plot_series(a[0], mo92_osloC_x, mo92_osloC_y, 0.08, 'Oslo', xerr=0.06, z=4)
legend(a[0], [('NRF', 'NRF'), ('Oslo', 'Oslo'), ('Photodata', 'Photodata')], 0.614, 0.239)
# 93Mo
plot_series(a[1], mo93_oslo_x, mo93_oslo_y, mo93_oslo_err, 'Oslo', xerr=0.12, z=4)
plot_series(a[1], mo93_e1_x, mo93_e1_y, 0.25, 'E1', z=3)
plot_series(a[1], mo93_m1_x, mo93_m1_y, 0.25, 'M1', z=3)
plot_series(a[1], mo93_e2_x, mo93_e2_y, mo93_e2_err, 'E2', z=3)
legend(a[1], [('Oslo', 'Oslo'), ('DRC - E1', 'E1'), ('DRC - M1', 'M1'), ('DRC - E2', 'E2')], 0.616, 0.261)
# 94Mo
plot_series(a[2], mo94_photo_x, mo94_photo_y, 0.03, 'Photodata', z=2)
plot_series(a[2], mo94_nrf_x, mo94_nrf_y, mo94_nrf_err, 'NRF', z=3)
plot_series(a[2], mo94_oslo_x, mo94_oslo_y, mo94_oslo_err, 'Oslo', xerr=0.12, z=4)
legend(a[2], [('NRF', 'NRF'), ('Oslo', 'Oslo'), ('Photodata', 'Photodata')], 0.619, 0.237)
# 95Mo
plot_series(a[3], mo95_photo_x, mo95_photo_y, 0.03, 'Photodata', z=2)
plot_series(a[3], mo95_ratio_x, mo95_ratio_y, 0.2, 'Ratio Method', xerr=0.22, z=3)
plot_series(a[3], mo95_oslo_x, mo95_oslo_y, mo95_oslo_err, 'Oslo', xerr=0.12, z=4)
legend(a[3], [('Ratio Method', 'Ratio Method'), ('Oslo', 'Oslo'), ('Photodata', 'Photodata')], 0.525, 0.221)
# 96Mo
plot_series(a[4], mo96_photo_x, mo96_photo_y, 0.03, 'Photodata', z=2)
plot_series(a[4], mo96_oslo_x, mo96_oslo_y, mo96_oslo_err, 'Oslo', xerr=0.12, z=3)
plot_series(a[4], mo96_nrf_x, mo96_nrf_y, mo96_nrf_err, 'NRF', z=4)
plot_series(a[4], mo96_pp_x, mo96_pp_y, 0.12, 'pp', z=5)
plot_series(a[4], mo96_e1_x, mo96_e1_y, 0.12, 'E1', z=6)
plot_series(a[4], mo96_m1_x, mo96_m1_y, 0.15, 'M1', z=6)
plot_series(a[4], mo96_e2_x, mo96_e2_y, mo96_e2_err, 'E2', z=6)
legend(a[4], [('NRF', 'NRF'), ('Oslo', 'Oslo'), ('Photodata', 'Photodata'), ('ARC - E1', 'E1'),
              ('ARC - M1', 'M1'), ('ARC - E2', 'E2'), ("(p,p')", 'pp')], 0.569, 0.385)
# 97Mo
plot_series(a[5], mo97_photo_x, mo97_photo_y, 0.03, 'Photodata', z=2)
plot_series(a[5], mo97_oslo_x, mo97_oslo_y, mo97_oslo_err, 'Oslo', xerr=0.12, z=4)
legend(a[5], [('Oslo', 'Oslo'), ('Photodata', 'Photodata')], 0.614, 0.22, spacing=0.6)
# 98Mo
plot_series(a[6], mo98_photo_x, mo98_photo_y, 0.06, 'Photodata', z=2)
plot_series(a[6], mo98_nrf_x, mo98_nrf_y, mo98_nrf_err, 'NRF', z=3)
plot_series(a[6], mo98_oslo_x, mo98_oslo_y, mo98_oslo_err, 'Oslo', xerr=0.12, z=4)
plot_series(a[6], mo98_e1_x, mo98_e1_y, 0.1, 'E1', z=5)
plot_series(a[6], mo98_m1_x, mo98_m1_y, 0.2, 'M1', z=5)
legend(a[6], [('NRF', 'NRF'), ('Oslo', 'Oslo'), ('Photodata', 'Photodata'), ('ARC - E1', 'E1'),
              ('ARC - M1', 'M1')], 0.588, 0.31)
# 99Mo
plot_series(a[7], mo99_e1_x, mo99_e1_y, 0.25, 'E1', z=3)
plot_series(a[7], mo99_m1_x, mo99_m1_y, 0.3, 'M1', z=3)
legend(a[7], [('DRC - E1', 'E1'), ('DRC - M1', 'M1')], 0.609, 0.187)
# 100Mo
plot_series(a[8], mo100_photo_x, mo100_photo_y, 0.04, 'Photodata', z=2)
plot_series(a[8], mo100_nrf_x, mo100_nrf_y, mo100_nrf_err, 'NRF', z=3)
legend(a[8], [('NRF', 'NRF'), ('Photodata', 'Photodata')], 0.614, 0.203)

fig.savefig('out.png', dpi=100)
